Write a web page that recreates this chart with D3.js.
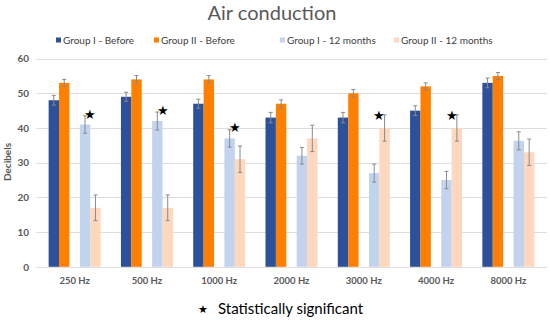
<!DOCTYPE html>
<html>
<head>
<meta charset="utf-8">
<script src="https://cdn.jsdelivr.net/npm/d3@7"></script>
<style>
  html, body { margin: 0; padding: 0; background: #fff; }
  svg { display: block; }
  text { font-family: Lato, "Open Sans", sans-serif; }
</style>
</head>
<body>
<svg id="chart" width="550" height="325"></svg>
<script>
// ---- data ----
const categories = ["250 Hz", "500 Hz", "1000 Hz", "2000 Hz", "3000 Hz", "4000 Hz", "8000 Hz"];
const seriesNames = ["Group I - Before", "Group II - Before", "Group I - 12 months", "Group II - 12 months"];
const group1Before = [48, 49, 47, 43, 43, 45, 53];
const group1BeforeErr = [1.4, 1.3, 1.3, 1.5, 1.5, 1.4, 1.4];
const group2Before = [53, 54, 54, 47, 50, 52, 55];
const group2BeforeErr = [1.0, 1.1, 1.1, 1.1, 1.1, 1.0, 1.0];
const group1Months = [41, 42, 37, 32, 27, 25, 36.3];
const group1MonthsErr = [2.5, 2.6, 2.5, 2.4, 2.6, 2.5, 2.6];
const group2Months = [17, 17, 31, 37, 40, 40, 33];
const group2MonthsErr = [3.7, 3.7, 3.8, 3.8, 3.8, 3.8, 3.8];
const significanceMark = [44, 45, 40.3, null, 43.5, 43.7, null]; // star level (dB)
const yTicks = [0, 10, 20, 30, 40, 50, 60];
const titleText = "Air conduction";
const yAxisTitle = "Decibels";
const footnote = "Statistically significant";

// ---- layout ----
const colors = ["#2C519A", "#FF7F00", "#C2D3EE", "#FDD8BE"];
const slotKeys = ["s0", "s1", "gap", "s2", "s3"];
const seriesSlots = ["s0", "s1", "s2", "s3"];
const values = [group1Before, group2Before, group1Months, group2Months];
const errors = [group1BeforeErr, group2BeforeErr, group1MonthsErr, group2MonthsErr];

const svg = d3.select("#chart");

const x0 = d3.scaleBand().domain(categories).range([38.5, 544.5]).padding(0);
const x1 = d3.scaleBand().domain(slotKeys).range([0, x0.bandwidth()]).paddingInner(0).paddingOuter(0.975);
const y = d3.scaleLinear().domain([0, 60]).range([266.8, 58.6]);

// gridlines
svg.append("g").selectAll("line").data(yTicks).join("line")
  .attr("x1", 36).attr("x2", 547)
  .attr("y1", d => Math.round(y(d)) + 0.5).attr("y2", d => Math.round(y(d)) + 0.5)
  .attr("stroke", "#dedede").attr("stroke-width", 1);

// y axis (labels only)
const yAxis = d3.axisLeft(y).tickValues(yTicks).tickSize(0).tickPadding(0);
const yg = svg.append("g").attr("transform", "translate(29,0)").call(yAxis);
yg.select(".domain").remove();
yg.selectAll("text").attr("font-size", 10).attr("font-weight", "bold").attr("fill", "#595959")
  .attr("font-family", "Lato, sans-serif");

// x axis (labels only)
const xAxis = d3.axisBottom(x0).tickSize(0).tickPadding(0);
const xg = svg.append("g").attr("transform", "translate(0,277.5)").call(xAxis);
xg.select(".domain").remove();
xg.selectAll("text").attr("font-size", 9.5).attr("font-weight", "bold").attr("fill", "#595959")
  .attr("font-family", "Lato, sans-serif");

// bars
const rows = [];
values.forEach((arr, si) => arr.forEach((v, ci) => rows.push({ si, ci, v, e: errors[si][ci] })));

const bars = svg.append("g");
bars.selectAll("rect").data(rows).join("rect")
  .attr("x", d => x0(categories[d.ci]) + x1(seriesSlots[d.si]))
  .attr("width", x1.bandwidth())
  .attr("y", d => y(d.v))
  .attr("height", d => y(0) - y(d.v))
  .attr("fill", d => colors[d.si]);

// error bars
const eg = svg.append("g").attr("stroke", "#8a8a8a").attr("stroke-width", 1);
const cx = d => x0(categories[d.ci]) + x1(seriesSlots[d.si]) + x1.bandwidth() / 2;
eg.selectAll("line.v").data(rows).join("line").attr("class", "v")
  .attr("x1", cx).attr("x2", cx)
  .attr("y1", d => y(d.v + d.e)).attr("y2", d => y(d.v - d.e));
eg.selectAll("line.t").data(rows).join("line").attr("class", "t")
  .attr("x1", d => cx(d) - 2).attr("x2", d => cx(d) + 2)
  .attr("y1", d => y(d.v + d.e)).attr("y2", d => y(d.v + d.e));
eg.selectAll("line.b").data(rows).join("line").attr("class", "b")
  .attr("x1", d => cx(d) - 2).attr("x2", d => cx(d) + 2)
  .attr("y1", d => y(d.v - d.e)).attr("y2", d => y(d.v - d.e));

// significance stars
const stars = significanceMark.map((v, ci) => ({ v, ci })).filter(d => d.v !== null);
svg.append("g").selectAll("text").data(stars).join("text")
  .attr("x", d => x0(categories[d.ci]) + x1("s2") + x1.bandwidth())
  .attr("y", d => y(d.v))
  .attr("dy", "0.35em")
  .attr("text-anchor", "middle")
  .attr("font-family", "DejaVu Sans, sans-serif")
  .attr("font-size", 13)
  .attr("fill", "#000")
  .text("★");

// title
svg.append("text")
  .attr("x", 272).attr("y", 19.5)
  .attr("text-anchor", "middle")
  .attr("font-size", 20)
  .attr("fill", "#595959")
  .text(titleText);

// legend
const legendX = [56, 154, 280, 394];
const lg = svg.append("g").selectAll("g").data(seriesNames).join("g")
  .attr("transform", (d, i) => `translate(${legendX[i]},40)`);
lg.append("rect").attr("x", 0).attr("y", -2.5).attr("width", 5).attr("height", 5)
  .attr("fill", (d, i) => colors[i]);
lg.append("text").attr("x", 7).attr("y", 0).attr("dy", "0.35em")
  .attr("font-size", 10).attr("fill", "#404040").text(d => d);

// y axis title
svg.append("text")
  .attr("transform", "translate(11,162) rotate(-90)")
  .attr("text-anchor", "middle")
  .attr("font-size", 10).attr("font-weight", "bold").attr("fill", "#595959")
  .text(yAxisTitle);

// footnote
const fg = svg.append("g");
fg.append("text").attr("x", 203).attr("y", 309).attr("dy", "0.35em")
  .attr("text-anchor", "middle").attr("font-family", "DejaVu Sans, sans-serif")
  .attr("font-size", 11).attr("fill", "#000").text("★");
fg.append("text").attr("x", 218).attr("y", 309).attr("dy", "0.35em")
  .attr("font-size", 15).attr("fill", "#000").text(footnote);
</script>
</body>
</html>
